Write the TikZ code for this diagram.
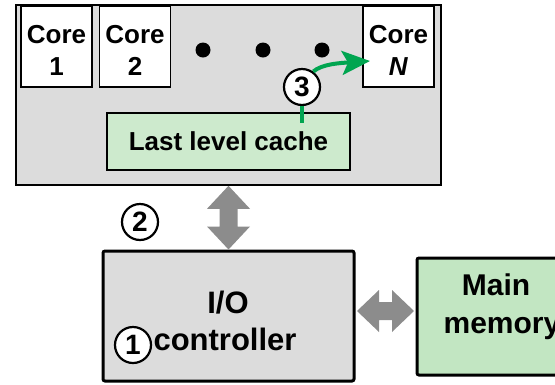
\documentclass[tikz,border=0pt]{standalone}
\usepackage{fontspec}
\setmainfont{Liberation Sans}
\usetikzlibrary{arrows.meta,calc}
\definecolor{chipgray}{HTML}{DCDCDC}
\definecolor{llcgreen}{HTML}{CDEACD}
\definecolor{memgreen}{HTML}{C2E6C2}
\definecolor{arrgreen}{HTML}{00A550}
\definecolor{arrgray}{HTML}{8C8C8C}
\begin{document}
\begin{tikzpicture}[x=1pt,y=-1pt,
  box/.style={draw=black, inner sep=0pt},
  corebox/.style={box, fill=white, line width=1.2pt, minimum width=71pt, minimum height=81pt},
  numcirc/.style={circle, draw=black, fill=white, line width=2.2pt, minimum size=36pt, inner sep=0pt, font=\fontsize{28}{28}\selectfont\bfseries},
  lbl/.style={inner sep=0pt, anchor=base, font=\fontsize{26}{26}\selectfont\bfseries},
  biglbl/.style={inner sep=0pt, anchor=base, font=\fontsize{31}{31}\selectfont\bfseries},
  memlbl/.style={inner sep=0pt, anchor=base, font=\fontsize{30}{30}\selectfont\bfseries},
  greenline/.style={draw=arrgreen, line width=4pt},
]
\useasboundingbox (0,0) rectangle (555,384);
% chip
\node[box, fill=chipgray, line width=1.6pt, minimum width=425pt, minimum height=180pt] (outer) at (228.5,95) {};
\node[corebox] (core1) at (56.5,46.5) {};
\node[corebox] (core2) at (135,46.5) {};
\node[corebox] (coreN) at (398.5,46.5) {};
\node[lbl] (t1a) at (56.5,43) {Core};
\node[lbl] (t1b) at (56.5,75) {1};
\node[lbl] (t2a) at (135,43) {Core};
\node[lbl] (t2b) at (135,75) {2};
\node[lbl] (tNa) at (398.5,43) {Core};
\node[lbl] (tNb) at (398.5,75) {\textit{N}};
\fill (203,50) circle (7.5pt) (263,50) circle (7.5pt) (322,50) circle (7.5pt);
\node[box, fill=llcgreen, line width=1.2pt, minimum width=243pt, minimum height=57pt] (llc) at (228.5,141.5) {};
\node[lbl] (tllc) at (228.5,150) {Last level cache};
% step 3
\coordinate (c3foot) at (302,123);
\coordinate (tipN) at (370,61);
\node[numcirc] (c3) at (302,87) {3};
\draw[greenline] (c3.south) -- (c3foot);
\draw[greenline, -{Stealth[length=28pt,width=24pt,inset=6pt]}] (c3.54) .. controls (322,64) and (340,63) .. (tipN);
% io and memory
\node[box, fill=chipgray, line width=3pt, rounded corners=2pt, minimum width=251pt, minimum height=130pt] (io) at (228.5,316) {};
\node[box, fill=memgreen, line width=3pt, rounded corners=2pt, minimum width=156pt, minimum height=117pt] (mem) at (495,316.5) {};
\node[biglbl] (tio) at (228,313) {I/O};
\node[biglbl] (tctl) at (225,350) {controller};
\node[numcirc] (c1) at (133,345) {1};
\node[numcirc] (c2) at (140,222) {2};
\node[memlbl] (tmain) at (496,295) {Main};
\node[memlbl] (tmem) at (502,333) {memory};
% gray double arrows
\coordinate (vt) at (outer.south -| llc.center);
\coordinate (vb) at (io.north -| llc.center);
\fill[arrgray] (vt) -- ++(21.5,23) -- ++(-12.5,0) -- ($(vb)+(9,-23)$) -- ++(12.5,0) -- (vb)
  -- ++(-21.5,-23) -- ++(12.5,0) -- ($(vt)+(-9,23)$) -- ++(-12.5,0) -- cycle;
\coordinate (hl) at ($(io.east)+(1.5,-5)$);
\coordinate (hr) at ($(mem.west)+(-1.5,-5.5)$);
\fill[arrgray] (hl) -- ++(22,-21) -- ++(0,12) -- ($(hr)+(-22,-9)$) -- ++(0,-12) -- (hr)
  -- ++(-22,21) -- ++(0,-12) -- ($(hl)+(22,9)$) -- ++(0,12) -- cycle;
\end{tikzpicture}
\end{document}
